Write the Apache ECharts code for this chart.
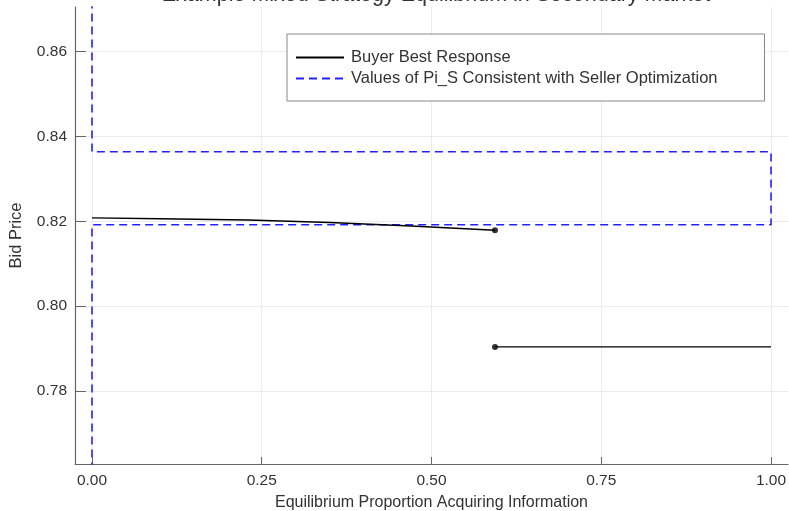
<!DOCTYPE html>
<html>
<head>
<meta charset="utf-8">
<script src="https://cdn.jsdelivr.net/npm/echarts@6/dist/echarts.min.js"></script>
<style>html,body{margin:0;padding:0;background:#fff}#c{width:789px;height:511px}</style>
</head>
<body>
<div id="c"></div>
<script>
const titleText = "Example Mixed Strategy Equilibrium in Secondary Market";
const xTicks = [0, 0.25, 0.5, 0.75, 1.0];
const yTicks = [0.78, 0.80, 0.82, 0.84, 0.86];
const buyerUpper = [[0, 0.8208], [0.1, 0.8206], [0.23, 0.8203], [0.35, 0.8197], [0.47, 0.8189], [0.5935, 0.8179]];
const buyerLower = [[0.5935, 0.7904], [1.0, 0.7904]];
const buyerDots = [[0.5935, 0.8179], [0.5935, 0.7904]];
const sellerPath = [[0, 0.70], [0, 0.8192], [1, 0.8192], [1, 0.8364], [0, 0.8364], [0, 0.95]];

const font = "Liberation Sans, Arial, sans-serif";
const chart = echarts.init(document.getElementById('c'));
chart.setOption({
  animation: false,
  title: {
    text: titleText, left: 431, top: -21, textAlign: 'center',
    textStyle: {fontFamily: font, fontSize: 21.5, fontWeight: 'normal', color: '#333'}
  },
  grid: {left: 75, right: 1, top: 7, bottom: 47, containLabel: false, outerBoundsMode: 'none'},
  legend: {
    left: 287, top: 34,
    orient: 'vertical',
    data: ['Buyer Best Response', 'Values of Pi_S Consistent with Seller Optimization'],
    itemWidth: 48, itemHeight: 14, itemGap: 4,
    padding: [15, 47, 14, 8],
    borderColor: '#888', borderWidth: 1, borderRadius: 0,
    backgroundColor: '#fff',
    itemStyle: {opacity: 0},
    textStyle: {fontFamily: font, fontSize: 16.5, color: '#333', padding: [0, 0, 0, 2]}
  },
  xAxis: {
    type: 'value', min: -0.025, max: 1.025,
    name: 'Equilibrium Proportion Acquiring Information',
    nameLocation: 'middle', nameGap: 31,
    nameTextStyle: {fontFamily: font, fontSize: 16, color: '#333'},
    axisLine: {show: true, onZero: false, lineStyle: {color: '#666', width: 1.2}},
    axisTick: {show: true, inside: true, length: 7, customValues: xTicks, lineStyle: {color: '#666'}},
    axisLabel: {customValues: xTicks, fontFamily: font, fontSize: 15.5, color: '#333', margin: 9,
      formatter: v => v.toFixed(2)},
    splitLine: {show: true, lineStyle: {color: '#ebebeb', width: 1}}
  },
  yAxis: {
    type: 'value', min: 0.7628, max: 0.8705,
    name: 'Bid Price', nameLocation: 'middle', nameGap: 50,
    nameTextStyle: {fontFamily: font, fontSize: 16.5, color: '#333'},
    axisLine: {show: true, onZero: false, lineStyle: {color: '#666', width: 1.2}},
    axisTick: {show: true, inside: true, length: 11, customValues: yTicks, lineStyle: {color: '#666'}},
    axisLabel: {customValues: yTicks, fontFamily: font, fontSize: 15.5, color: '#333', margin: 8,
      formatter: v => v.toFixed(2)},
    splitLine: {show: true, lineStyle: {color: '#ebebeb', width: 1}}
  },
  series: [
    {name: 'Buyer Best Response', type: 'line', data: buyerUpper, symbol: 'none', clip: true,
      lineStyle: {color: '#000', width: 1.4}, itemStyle: {color: '#000'}, z: 3},
    {name: 'Buyer Best Response', type: 'line', data: buyerLower, symbol: 'none', clip: true,
      lineStyle: {color: '#000', width: 1.4}, itemStyle: {color: '#000'}, z: 3},
    {name: 'dots', type: 'scatter', data: buyerDots, symbol: 'circle', symbolSize: 6,
      itemStyle: {color: '#000'}, z: 4},
    {name: 'Values of Pi_S Consistent with Seller Optimization', type: 'line', data: sellerPath,
      symbol: 'none', clip: true,
      lineStyle: {color: '#2222ff', width: 1.6, type: [8, 5]}, itemStyle: {color: '#2222ff'}, z: 2}
  ]
});
</script>
</body>
</html>
